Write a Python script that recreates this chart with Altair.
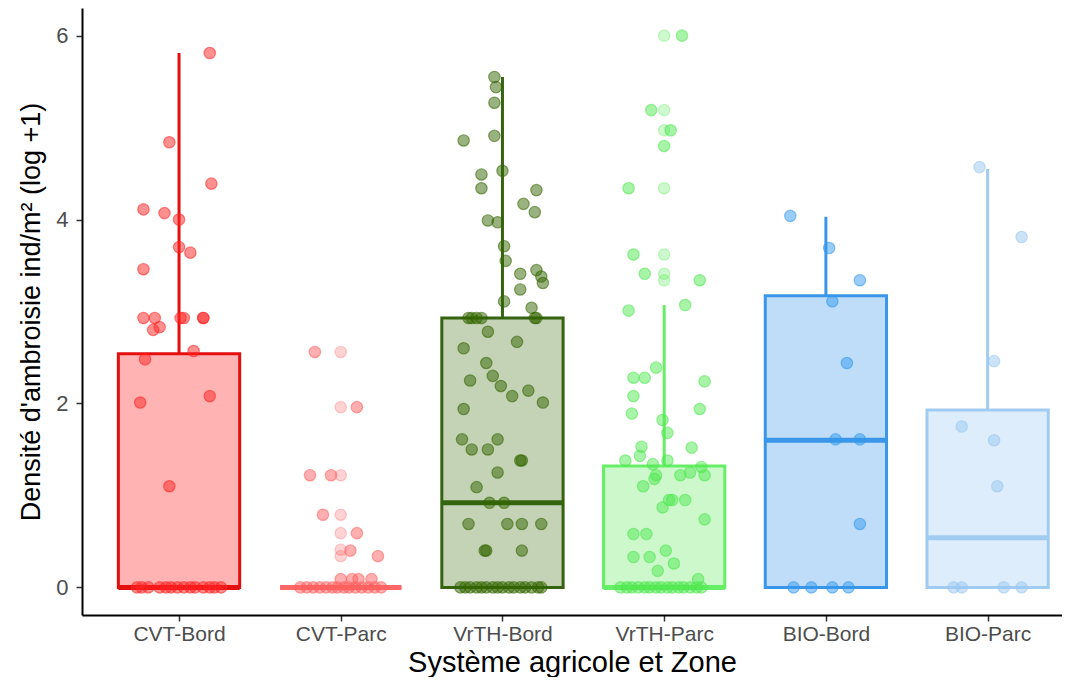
import altair as alt
import pandas as pd

GROUPS = ["CVT-Bord", "CVT-Parc", "VrTH-Bord", "VrTH-Parc", "BIO-Bord", "BIO-Parc"]
LINE_COLORS = ["#E41010", "#FF6666", "#356410", "#66EE66", "#3A96E8", "#A0CCF2"]
FILL_COLORS = ["#FFB3B3", "#FFD0D0", "#C4D2B6", "#CCF8CC", "#BFDDF8", "#DDEDFB"]
POINT_COLORS = ["#FF2222", "#FF6060", "#336600", "#50E850", "#3399EE", "#99C8F0"]

# box statistics
Q1 = [0, 0, 0, 0, 0, 0]
MEDIAN = [0, 0, 0.92, 0, 1.60, 0.54]
Q3 = [2.54, 0, 2.93, 1.32, 3.17, 1.93]
WHISK_HI = [5.81, 0, 5.55, 3.07, 4.03, 4.55]

# jittered observations: value and horizontal jitter (category units)
CVT_BORD_Y = [5.81, 4.84, 4.39, 4.11, 4.07, 4.00, 3.70, 3.64, 3.46, 2.93, 2.93, 2.93, 2.93, 2.93, 2.93,
              2.80, 2.83, 2.57, 2.48, 2.01, 2.08, 1.10,
              0, 0, 0, 0, 0, 0, 0, 0, 0, 0, 0, 0, 0, 0]
CVT_BORD_DX = [0.19, -0.06, 0.20, -0.22, -0.09, 0.00, 0.00, 0.07, -0.22, -0.22, -0.15, 0.01, 0.03, 0.15, 0.15,
               -0.16, -0.12, 0.09, -0.21, -0.24, 0.19, -0.06,
               -0.26, -0.23, -0.19, -0.12, -0.08, -0.05, -0.01, 0.03, 0.07, 0.10, 0.15, 0.19, 0.22, 0.26]

CVT_PARC_Y = [2.56, 1.96, 1.22, 1.22, 0.79, 0.59, 0.40, 0.34, 0.09, 0.09, 0.09, 0.09,
              0, 0, 0, 0, 0, 0, 0, 0, 0, 0, 0, 0, 0, 0]
CVT_PARC_DX = [-0.16, 0.10, -0.19, -0.06, -0.11, 0.10, 0.06, 0.23, 0.00, 0.07, 0.11, 0.19,
               -0.25, -0.21, -0.17, -0.13, -0.09, -0.05, -0.02, 0.02, 0.05, 0.09, 0.13, 0.17, 0.21, 0.25]
CVT_PARC_CENTRE_Y = [2.56, 1.96, 1.22, 0.79, 0.59, 0.41, 0.34]

VRTH_BORD_Y = [5.55, 5.44, 5.27, 4.91, 4.86, 4.53, 4.49, 4.34, 4.32, 4.17, 4.08, 3.99, 3.97, 3.71, 3.55,
               3.45, 3.41, 3.38, 3.31, 3.24, 3.11, 3.04, 2.93, 2.93, 2.93, 2.93, 2.93, 2.93,
               2.78, 2.67, 2.60, 2.44, 2.30, 2.25, 2.19, 2.14, 2.08, 2.01, 1.94, 1.61, 1.61, 1.50, 1.50,
               1.38, 1.38, 1.25, 1.09, 0.92, 0.92, 0.69, 0.69, 0.69, 0.69, 0.40, 0.40, 0.40,
               0, 0, 0, 0, 0, 0, 0, 0, 0, 0, 0, 0, 0, 0, 0, 0]
VRTH_BORD_DX = [-0.05, -0.04, -0.05, -0.05, -0.24, 0.00, -0.13, -0.13, 0.21, 0.13, 0.20, -0.09, -0.03, 0.01, 0.02,
                0.21, 0.11, 0.24, 0.25, 0.11, 0.01, 0.18, -0.21, -0.19, -0.16, -0.13, 0.20, 0.21,
                -0.09, 0.09, -0.24, -0.10, -0.06, -0.20, -0.01, 0.16, 0.06, 0.25, -0.24, -0.25, -0.03, -0.19, -0.09,
                0.11, 0.12, -0.03, -0.16, -0.08, 0.01, -0.21, 0.03, 0.12, 0.24, -0.10, -0.11, 0.12,
                -0.26, -0.23, -0.20, -0.16, -0.13, -0.10, -0.06, -0.03, 0.00, 0.04, 0.07, 0.11, 0.14, 0.18, 0.22, 0.24]

VRTH_PARC_Y = [6.00, 5.19, 4.97, 4.80, 4.34, 3.62, 3.41, 3.34, 3.07, 3.01, 2.39, 2.28, 2.28, 2.24, 2.08,
               1.94, 1.89, 1.82, 1.68, 1.53, 1.52, 1.43, 1.38, 1.38, 1.34, 1.31, 1.25, 1.22, 1.22, 1.22,
               1.18, 1.10, 0.95, 0.95, 0.95, 0.87, 0.74, 0.58, 0.58, 0.40, 0.33, 0.33, 0.26, 0.18, 0.09,
               0, 0, 0, 0, 0, 0, 0, 0, 0, 0, 0, 0, 0, 0, 0]
VRTH_PARC_DX = [0.11, -0.08, 0.04, 0.00, -0.22, -0.19, -0.12, 0.22, 0.13, -0.22, -0.05, -0.19, -0.12, 0.25, -0.19,
                0.22, -0.20, -0.01, 0.02, -0.14, 0.17, -0.15, -0.24, 0.02, -0.07, 0.23, 0.16, -0.05, 0.10, 0.25,
                -0.06, -0.13, 0.03, 0.05, 0.13, -0.01, 0.25, -0.19, -0.11, 0.01, -0.19, -0.09, 0.06, -0.04, 0.21,
                -0.27, -0.23, -0.20, -0.16, -0.12, -0.09, -0.05, -0.02, 0.02, 0.05, 0.09, 0.12, 0.16, 0.20, 0.23]
VRTH_PARC_CENTRE_Y = [6.00, 5.19, 4.97, 4.34, 3.62, 3.41, 3.34]

BIO_BORD_Y = [4.04, 3.69, 3.34, 3.11, 2.44, 1.61, 1.61, 0.69, 0, 0, 0, 0]
BIO_BORD_DX = [-0.22, 0.02, 0.21, 0.04, 0.13, 0.06, 0.21, 0.21, -0.20, -0.09, 0.04, 0.14]

BIO_PARC_Y = [4.57, 3.81, 2.46, 1.75, 1.60, 1.10, 0, 0, 0, 0]
BIO_PARC_DX = [-0.05, 0.21, 0.04, -0.16, 0.04, 0.06, -0.21, -0.16, 0.10, 0.21]

X_TITLE = "Système agricole et Zone"
Y_TITLE = "Densité d'ambroisie ind/m² (log +1)"

# ---------- tables ----------
box_df = pd.DataFrame({"group": GROUPS, "idx": list(range(1, 7)),
                       "q1": Q1, "med": MEDIAN, "q3": Q3, "whi": WHISK_HI})

rows = []
for g, ys, dxs in [("CVT-Bord", CVT_BORD_Y, CVT_BORD_DX), ("CVT-Parc", CVT_PARC_Y, CVT_PARC_DX),
                   ("VrTH-Bord", VRTH_BORD_Y, VRTH_BORD_DX), ("VrTH-Parc", VRTH_PARC_Y, VRTH_PARC_DX),
                   ("BIO-Bord", BIO_BORD_Y, BIO_BORD_DX), ("BIO-Parc", BIO_PARC_Y, BIO_PARC_DX)]:
    for y, dx in zip(ys, dxs):
        rows.append({"group": g, "idx": GROUPS.index(g) + 1, "y": y, "dx": dx})
pts_df = pd.DataFrame(rows)

crow = []
for g, ys in [("CVT-Parc", CVT_PARC_CENTRE_Y), ("VrTH-Parc", VRTH_PARC_CENTRE_Y)]:
    for y in ys:
        crow.append({"group": g, "idx": GROUPS.index(g) + 1, "y": y, "dx": 0.0})
centre_df = pd.DataFrame(crow)

xscale = alt.Scale(domain=[0.4, 6.46], nice=False, zero=False)
yscale = alt.Scale(domain=[-0.3, 6.3], nice=False, zero=False)
stroke_scale = alt.Scale(domain=GROUPS, range=LINE_COLORS)
fill_scale = alt.Scale(domain=GROUPS, range=FILL_COLORS)
pt_scale = alt.Scale(domain=GROUPS, range=POINT_COLORS)

label_expr = "['', " + ", ".join(f"'{g}'" for g in GROUPS) + "][datum.value]"

x_axis = alt.Axis(values=[1, 2, 3, 4, 5, 6], labelExpr=label_expr, title=X_TITLE, grid=False,
                  domainColor="black", domainWidth=2, tickColor="#333333", tickWidth=1.5, tickSize=6,
                  labelFontSize=21, labelColor="#4d4d4d", labelPadding=2,
                  titleFontSize=29, titleColor="black", titleFontWeight="normal", titlePadding=4)
y_axis = alt.Axis(values=[0, 2, 4, 6], format="d", title=Y_TITLE, grid=False,
                  domainColor="black", domainWidth=2, tickColor="#333333", tickWidth=1.5, tickSize=6,
                  labelFontSize=22, labelColor="#4d4d4d", labelPadding=8,
                  titleFontSize=27, titleColor="black", titleFontWeight="normal", titlePadding=10)

base_box = alt.Chart(box_df).transform_calculate(
    x_lo="datum.idx - 0.375", x_hi="datum.idx + 0.375")

boxes = base_box.mark_rect(strokeWidth=3).encode(
    x=alt.X("x_lo:Q", scale=xscale, axis=x_axis),
    x2="x_hi:Q",
    y=alt.Y("q1:Q", scale=yscale, axis=y_axis),
    y2="q3:Q",
    fill=alt.Fill("group:N", scale=fill_scale, legend=None),
    stroke=alt.Stroke("group:N", scale=stroke_scale, legend=None),
)

whiskers = base_box.mark_rule(strokeWidth=3).encode(
    x=alt.X("idx:Q", scale=xscale),
    y=alt.Y("q3:Q", scale=yscale),
    y2="whi:Q",
    color=alt.Color("group:N", scale=stroke_scale, legend=None),
)

medians = base_box.mark_rule(strokeWidth=5).encode(
    x=alt.X("x_lo:Q", scale=xscale),
    x2="x_hi:Q",
    y=alt.Y("med:Q", scale=yscale),
    color=alt.Color("group:N", scale=stroke_scale, legend=None),
)

centre_pts = alt.Chart(centre_df).transform_calculate(xpos="datum.idx + datum.dx").mark_point(
    filled=True, size=130, fillOpacity=0.28, strokeOpacity=0.3, strokeWidth=1.2
).encode(
    x=alt.X("xpos:Q", scale=xscale),
    y=alt.Y("y:Q", scale=yscale),
    fill=alt.Fill("group:N", scale=pt_scale, legend=None),
    stroke=alt.Stroke("group:N", scale=pt_scale, legend=None),
)

pts = alt.Chart(pts_df).transform_calculate(xpos="datum.idx + datum.dx").mark_point(
    filled=True, size=130, fillOpacity=0.5, strokeOpacity=0.55, strokeWidth=1.2
).encode(
    x=alt.X("xpos:Q", scale=xscale),
    y=alt.Y("y:Q", scale=yscale),
    fill=alt.Fill("group:N", scale=pt_scale, legend=None),
    stroke=alt.Stroke("group:N", scale=pt_scale, legend=None),
)

chart = alt.layer(boxes, whiskers, medians, centre_pts, pts).resolve_scale(
    fill="independent", stroke="independent", color="independent"
).properties(
    width=980, height=607,
    padding={"left": 9, "top": 0, "right": 0, "bottom": 0},
    background="white",
).configure(font="Liberation Sans", view=alt.ViewConfig(stroke=None))

chart.save("out.html", embed_options={"renderer": "svg", "actions": False})
